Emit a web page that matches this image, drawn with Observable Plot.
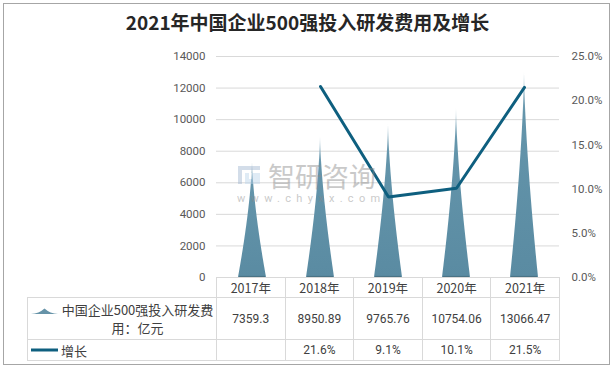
<!DOCTYPE html>
<html><head><meta charset="utf-8">
<script src="https://cdn.jsdelivr.net/npm/d3@7"></script>
<script src="https://cdn.jsdelivr.net/npm/@observablehq/plot@0.6"></script>
<style>
body{margin:0;background:#fff;}
#wrap{position:relative;width:615px;height:370px;overflow:hidden;font-family:"Noto Sans CJK SC",sans-serif;}
#frame{position:absolute;left:3px;top:3px;width:607px;height:362px;border:1px solid #a6a6a6;box-sizing:border-box;}
#title{position:absolute;left:0;top:8px;width:615px;text-align:center;font-weight:bold;font-size:19px;color:#262626;}
#chart{position:absolute;left:0;top:40px;}
#wm{position:absolute;left:236px;top:150px;pointer-events:none;}
#tbl{position:absolute;left:27px;top:277px;border-collapse:collapse;table-layout:fixed;color:#404040;}
#tbl td{border:1px solid #d9d9d9;padding:0;text-align:center;font-family:Roboto,sans-serif;font-size:12px;}
#tbl td.yr{font-family:"Noto Sans CJK SC",sans-serif;font-size:12.5px;}
#tbl td.lg{font-family:"Noto Sans CJK SC",sans-serif;font-size:13px;text-align:left;}
</style></head><body>
<div id="wrap">
  <div id="frame"></div>
  <div id="title"></div>
  <div id="chart"></div>
  <div id="wm"></div>
  <table id="tbl"></table>
</div>
<script>
const title = "2021年中国企业500强投入研发费用及增长";
const years = ["2017年", "2018年", "2019年", "2020年", "2021年"];
const rd = [7359.3, 8950.89, 9765.76, 10754.06, 13066.47];
const rdLabels = ["7359.3", "8950.89", "9765.76", "10754.06", "13066.47"];
const growth = [null, 21.6, 9.1, 10.1, 21.5];
const growthLabels = ["", "21.6%", "9.1%", "10.1%", "21.5%"];
const leftTicks = [0, 2000, 4000, 6000, 8000, 10000, 12000, 14000];
const rightTicks = [0, 5, 10, 15, 20, 25];
const seriesNames = ["中国企业500强投入研发费用：亿元", "增长"];
const yMax = 14000, pMax = 25;

document.getElementById("title").textContent = title;

const lineColor = "#0e5f7f";

const spikes = (index, scales) => {
  const {x, y} = scales;
  const bw = x.bandwidth ? x.bandwidth() : 0;
  const g = d3.create("svg:g");
  const defs = g.append("defs");
  const grad = defs.append("linearGradient").attr("id", "spk").attr("x1", 0).attr("y1", 1).attr("x2", 0).attr("y2", 0);
  grad.append("stop").attr("offset", "0%").attr("stop-color", "#5a8ba2");
  grad.append("stop").attr("offset", "80%").attr("stop-color", "#6495ab");
  grad.append("stop").attr("offset", "100%").attr("stop-color", "#a9c4d2");
  rd.forEach((v, i) => {
    const cx = x(years[i]) + bw / 2;
    const y0 = y(0), y1 = y(v);
    const L = [], R = [];
    for (let k = 0; k <= 60; k++) {
      const t = k / 60;
      const w = 14 * Math.pow(1 - t, 1.5);
      const yy = y0 + (y1 - y0) * t;
      L.push([cx - w, yy]); R.push([cx + w, yy]);
    }
    const pts = L.concat(R.reverse());
    g.append("path").attr("d", "M" + pts.map(p => p[0].toFixed(2) + "," + p[1].toFixed(2)).join("L") + "Z").attr("fill", "url(#spk)");
    g.append("line").attr("x1", cx - 13).attr("x2", cx + 13).attr("y1", y0 - 0.5).attr("y2", y0 - 0.5).attr("stroke", "#4a7385").attr("stroke-width", 1.2);
  });
  return g.node();
};

const lineData = years.map((yr, i) => ({year: yr, g: growth[i]})).filter(d => d.g != null);

const chart = Plot.plot({
  width: 615,
  height: 250,
  marginTop: 16,
  marginBottom: 13,
  marginLeft: 216,
  marginRight: 56,
  style: {fontFamily: "Roboto, sans-serif", fontSize: "11.5px", color: "#595959", background: "transparent", overflow: "visible"},
  x: {type: "band", domain: years, padding: 0, axis: null},
  y: {domain: [0, yMax]},
  marks: [
    Plot.ruleY(leftTicks, {stroke: "#d9d9d9", strokeWidth: 1}),
    spikes,
    Plot.line(lineData, {x: "year", y: d => d.g / pMax * yMax, stroke: lineColor, strokeWidth: 3, strokeLinejoin: "miter"}),
    Plot.axisY(leftTicks, {anchor: "left", tickSize: 0, tickPadding: 11, label: null, tickFormat: d => String(d)}),
    Plot.axisY(rightTicks.map(p => p / pMax * yMax), {anchor: "right", tickSize: 0, tickPadding: 12, label: null, textAnchor: "start", tickFormat: d => (d / yMax * pMax).toFixed(1) + "%"})
  ]
});
document.getElementById("chart").appendChild(chart);

// watermark
document.getElementById("wm").innerHTML =
  '<svg width="150" height="60" style="opacity:0.45;overflow:visible">' +
  '<rect x="2" y="16" width="22" height="4" fill="#9fb4cf"/><rect x="2" y="20" width="4" height="14" fill="#9fb4cf"/>' +
  '<rect x="9" y="23" width="15" height="11" fill="#b9d3ea"/><rect x="13" y="23" width="3" height="6" fill="#fff"/>' +
  '<text x="32" y="37" font-size="27" fill="#8a8a8a" font-family="Noto Sans CJK SC">智研咨询</text>' +
  '<text x="1" y="52" font-size="11" fill="#8a8a8a" font-family="Roboto" letter-spacing="5.3">www.chyxx.com</text>' +
  '</svg>';

// data table
const tbl = document.getElementById("tbl");
const colW = [189, 68.6, 68.6, 68.6, 68.6, 68.6];
let html = "<colgroup>" + colW.map(w => `<col style="width:${w}px">`).join("") + "</colgroup>";
html += '<tr style="height:19px"><td style="border-top:none;border-left:none;border-bottom:1px solid #d9d9d9"></td>' +
  years.map(y => `<td class="yr">${y}</td>`).join("") + "</tr>";
html += '<tr style="height:42px"><td class="lg"><div style="display:flex;align-items:flex-start;">' +
  '<svg width="30" height="14" style="flex:none;margin-left:2px;margin-top:2px"><path d="M1,11 Q9,10.5 14.5,5.5 Q20,10.5 28,11 Z" fill="#6693a8"/></svg>' +
  '<div style="text-align:center;width:155px;line-height:18px;">中国企业500强投入研发费<br>用：亿元</div></div></td>' +
  rdLabels.map(v => `<td>${v}</td>`).join("") + "</tr>";
html += '<tr style="height:21px"><td class="lg"><div style="display:flex;align-items:center;">' +
  '<svg width="31" height="8" style="flex:none;margin-left:2px"><line x1="1" x2="28" y1="4" y2="4" stroke="' + lineColor + '" stroke-width="3"/></svg>' +
  '<span>' + seriesNames[1] + '</span></div></td>' +
  growthLabels.map(v => `<td>${v}</td>`).join("") + "</tr>";
tbl.innerHTML = html;
</script>
</body></html>
